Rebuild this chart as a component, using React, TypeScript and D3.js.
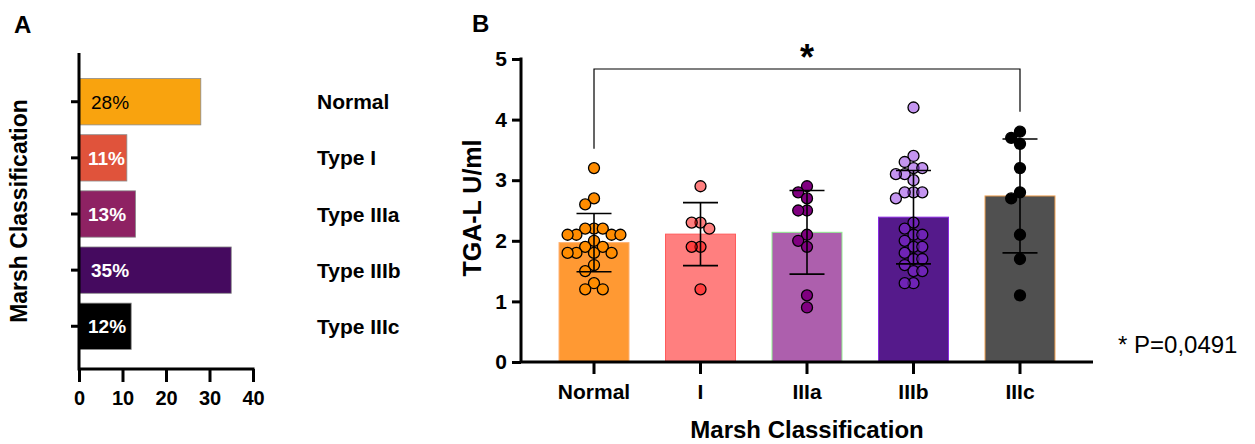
import React, { useRef, useEffect } from 'react';
import * as d3 from 'd3';

// Panel A: share of patients per Marsh class
const aCats = ['Normal', 'Type I', 'Type IIIa', 'Type IIIb', 'Type IIIc'];
const aPercent = [28, 11, 13, 35, 12];
const aTicks = [0, 10, 20, 30, 40];
const aColors = ['#F9A30E', '#E0533B', '#8E2263', '#450A5F', '#000000'];

// Panel B: TGA-L levels per Marsh class
const bCats = ['Normal', 'I', 'IIIa', 'IIIb', 'IIIc'];
const bMeans = [1.97, 2.11, 2.14, 2.39, 2.74];
const bSD = [0.48, 0.52, 0.69, 0.77, 0.94];
const bTicks = [0, 1, 2, 3, 4, 5];
const normalPts = [3.2, 2.7, 2.6, 2.2, 2.2, 2.2, 2.1, 2.1, 2.1, 2.1, 2.0, 1.9, 1.9, 1.8, 1.8, 1.8, 1.8, 1.6, 1.5, 1.3, 1.2, 1.2];
const typeIPts = [2.9, 2.3, 2.3, 2.2, 1.9, 1.9, 1.2];
const iiiaPts = [2.9, 2.8, 2.7, 2.5, 2.5, 2.1, 2.0, 1.9, 1.1, 0.9];
const iiibPts = [4.2, 3.4, 3.3, 3.2, 3.2, 3.1, 3.1, 3.0, 2.8, 2.8, 2.8, 2.7, 2.3, 2.2, 2.1, 2.1, 2.0, 1.9, 1.9, 1.8, 1.7, 1.7, 1.6, 1.5, 1.5, 1.3, 1.3];
const iiicPts = [3.8, 3.7, 3.6, 3.2, 2.8, 2.7, 2.1, 1.7, 1.1];
const bPoints = [normalPts, typeIPts, iiiaPts, iiibPts, iiicPts];
const bFill = ['#FF9933', '#FF7F7F', '#AD5FAD', '#551A8B', '#505050'];
const bStroke = ['#FFB070', '#FF5A5A', '#90EE90', '#8A2BE2', '#F0A050'];
const ptFill = ['#FF8C00', '#FF0000', '#800080', '#8A2BE2', '#000000'];
const ptOpacity = [1, 0.5, 1, 0.5, 1];
const sigFrom = 'Normal';
const sigTo = 'IIIc';
const pText = '* P=0,0491';

const FONT = '"Liberation Sans", Arial, sans-serif';

// simple beeswarm: place each point at the nearest free offset (slight overlap allowed)
function swarm(values: number[], y: (v: number) => number, r: number) {
  const placed: { dx: number; y: number; v: number }[] = [];
  const minD = 2 * r * 0.8;
  const step = r * 0.8;
  [...values].sort((a, b) => b - a).forEach(v => {
    const py = y(v);
    for (let j = 0; j < 40; j++) {
      const k = j === 0 ? 0 : (j % 2 ? -Math.ceil(j / 2) : Math.ceil(j / 2));
      const dx = k * step;
      if (placed.every(p => Math.hypot(p.dx - dx, p.y - py) >= minD)) {
        placed.push({ dx, y: py, v });
        break;
      }
    }
  });
  return placed;
}

const App = () => {
  const svgRef = useRef<SVGSVGElement>(null);

  useEffect(() => {
    const svg = d3.select(svgRef.current);
    svg.selectAll('*').remove();

    // ---------- Panel A ----------
    const xA = d3.scaleLinear().domain([0, 40]).range([79, 253]);
    const yA = d3.scaleBand().domain(aCats).range([55, 373]).paddingInner(0.175).paddingOuter(0.42);
    const gA = svg.append('g');

    gA.selectAll('rect')
      .data(aPercent)
      .join('rect')
      .attr('x', xA(0))
      .attr('y', (d, i) => yA(aCats[i])!)
      .attr('width', d => xA(d) - xA(0))
      .attr('height', yA.bandwidth())
      .attr('fill', (d, i) => aColors[i])
      .attr('stroke', '#8a8a8a')
      .attr('stroke-width', 0.8);

    gA.selectAll('text.pct')
      .data(aPercent)
      .join('text')
      .attr('class', 'pct')
      .attr('x', (d, i) => xA(0) + (i === 0 || i === 3 ? 12 : 9))
      .attr('y', (d, i) => yA(aCats[i])! + yA.bandwidth() / 2)
      .attr('dy', '0.36em')
      .attr('font-family', FONT)
      .attr('font-size', 19)
      .attr('font-weight', (d, i) => (i === 0 ? 'normal' : 'bold'))
      .attr('fill', (d, i) => (i === 0 ? '#000' : '#fff'))
      .text(d => `${d}%`);

    gA.selectAll('text.cat')
      .data(aCats)
      .join('text')
      .attr('class', 'cat')
      .attr('x', 317)
      .attr('y', d => yA(d)! + yA.bandwidth() / 2)
      .attr('dy', '0.36em')
      .attr('font-family', FONT)
      .attr('font-size', 21)
      .attr('font-weight', 'bold')
      .text(d => d);

    const axA = gA.append('g')
      .attr('transform', 'translate(0,369)')
      .call(d3.axisBottom(xA).tickValues(aTicks).tickSize(13).tickPadding(9).tickSizeOuter(0));
    axA.select('.domain').remove();
    axA.selectAll('line').attr('stroke-width', 3);
    axA.selectAll('text').attr('font-family', FONT).attr('font-size', 20).attr('font-weight', 'bold');

    const ayA = gA.append('g')
      .attr('transform', 'translate(79,0)')
      .call(d3.axisLeft(yA).tickSize(8).tickFormat(() => ''));
    ayA.select('.domain').remove();
    ayA.selectAll('line').attr('stroke-width', 3);

    gA.append('path')
      .attr('d', 'M79,53 V369 H254.5')
      .attr('fill', 'none')
      .attr('stroke', '#000')
      .attr('stroke-width', 3);

    gA.append('text')
      .attr('transform', 'translate(19,211) rotate(-90)')
      .attr('text-anchor', 'middle')
      .attr('dy', '0.36em')
      .attr('font-family', FONT)
      .attr('font-size', 23)
      .attr('font-weight', 'bold')
      .text('Marsh Classification');

    gA.append('text')
      .attr('x', 14).attr('y', 33)
      .attr('font-family', FONT).attr('font-size', 24).attr('font-weight', 'bold')
      .text('A');

    // ---------- Panel B ----------
    const yB = d3.scaleLinear().domain([0, 5]).range([362, 59]);
    const xB = d3.scaleBand().domain(bCats).range([521, 1093]).paddingInner(0.343).paddingOuter(0.357);
    const gB = svg.append('g');
    const cx = (c: string) => xB(c)! + xB.bandwidth() / 2;

    gB.selectAll('rect')
      .data(bMeans)
      .join('rect')
      .attr('x', (d, i) => xB(bCats[i])!)
      .attr('y', d => yB(d))
      .attr('width', xB.bandwidth())
      .attr('height', d => yB(0) - yB(d))
      .attr('fill', (d, i) => bFill[i])
      .attr('stroke', (d, i) => bStroke[i])
      .attr('stroke-width', 1);

    const r = 5.5;
    bPoints.forEach((pts, i) => {
      const sw = swarm(pts, yB, r);
      gB.append('g')
        .selectAll('circle')
        .data(sw)
        .join('circle')
        .attr('cx', d => cx(bCats[i]) + d.dx)
        .attr('cy', d => d.y)
        .attr('r', r)
        .attr('fill', ptFill[i])
        .attr('fill-opacity', ptOpacity[i])
        .attr('stroke', '#000')
        .attr('stroke-width', 1.3);
    });

    // error bars (mean ± SD)
    const eb = gB.append('g').attr('stroke', '#000').attr('stroke-width', 1.6);
    bMeans.forEach((m, i) => {
      const x = cx(bCats[i]);
      eb.append('line').attr('x1', x).attr('x2', x).attr('y1', yB(m - bSD[i])).attr('y2', yB(m + bSD[i]));
      [m - bSD[i], m + bSD[i]].forEach(v => {
        eb.append('line').attr('x1', x - 17.5).attr('x2', x + 17.5).attr('y1', yB(v)).attr('y2', yB(v));
      });
    });

    const axB = gB.append('g')
      .attr('transform', 'translate(0,362)')
      .call(d3.axisBottom(xB).tickSize(12).tickPadding(10).tickSizeOuter(0));
    axB.select('.domain').remove();
    axB.selectAll('line').attr('stroke-width', 3);
    axB.selectAll('text').attr('font-family', FONT).attr('font-size', 21).attr('font-weight', 'bold');

    const ayB = gB.append('g')
      .attr('transform', 'translate(521,0)')
      .call(d3.axisLeft(yB).tickValues(bTicks).tickSize(9).tickPadding(5).tickFormat(d3.format('d')));
    ayB.select('.domain').remove();
    ayB.selectAll('line').attr('stroke-width', 3);
    ayB.selectAll('text').attr('font-family', FONT).attr('font-size', 21).attr('font-weight', 'bold');

    gB.append('path')
      .attr('d', `M521,${yB(5) - 1.5} V362 H1093`)
      .attr('fill', 'none')
      .attr('stroke', '#000')
      .attr('stroke-width', 3);

    // significance bracket
    gB.append('path')
      .attr('d', `M${cx(sigFrom)},${yB(3.52)} V69 H${cx(sigTo)} V${yB(4.13)}`)
      .attr('fill', 'none')
      .attr('stroke', '#000')
      .attr('stroke-width', 1.2);
    gB.append('text')
      .attr('x', (cx(sigFrom) + cx(sigTo)) / 2).attr('y', 70)
      .attr('text-anchor', 'middle')
      .attr('font-family', FONT).attr('font-size', 36).attr('font-weight', 'bold')
      .text('*');

    gB.append('text')
      .attr('x', 1118).attr('y', 353)
      .attr('font-family', FONT).attr('font-size', 24)
      .text(pText);

    gB.append('text')
      .attr('x', 807).attr('y', 438)
      .attr('text-anchor', 'middle')
      .attr('font-family', FONT).attr('font-size', 24).attr('font-weight', 'bold')
      .text('Marsh Classification');

    gB.append('text')
      .attr('transform', 'translate(472,208) rotate(-90)')
      .attr('text-anchor', 'middle')
      .attr('dy', '0.36em')
      .attr('font-family', FONT).attr('font-size', 25).attr('font-weight', 'bold')
      .text('TGA-L U/ml');

    gB.append('text')
      .attr('x', 472).attr('y', 32)
      .attr('font-family', FONT).attr('font-size', 24).attr('font-weight', 'bold')
      .text('B');
  }, []);

  return (
    <svg
      ref={svgRef}
      width={1255}
      height={444}
      style={{ position: 'absolute', left: 0, top: 0, background: '#fff' }}
    />
  );
};

export default App;
